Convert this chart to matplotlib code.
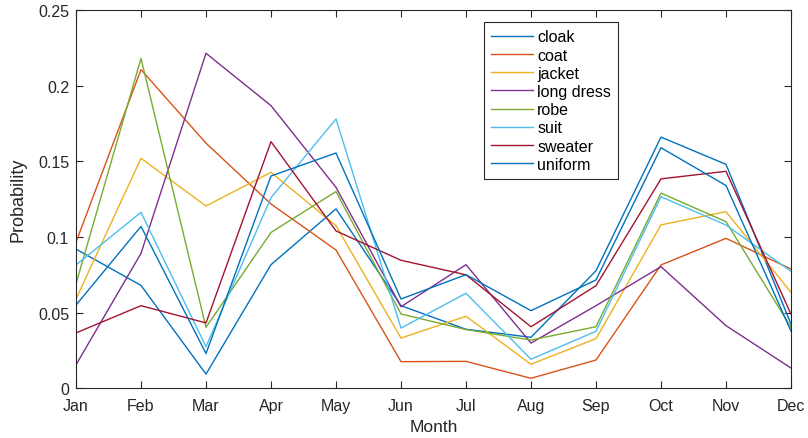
import numpy as np
import matplotlib
matplotlib.use("Agg")
import matplotlib.pyplot as plt

plt.rcParams['font.family'] = ['Liberation Sans', 'DejaVu Sans']

# Monthly probabilities for each garment
months = ['Jan', 'Feb', 'Mar', 'Apr', 'May', 'Jun', 'Jul', 'Aug', 'Sep', 'Oct', 'Nov', 'Dec']
cloak = [0.092, 0.068, 0.0094, 0.0817, 0.1186, 0.0546, 0.039, 0.0337, 0.0777, 0.166, 0.148, 0.0425]
coat = [0.0966, 0.2106, 0.162, 0.1218, 0.0914, 0.0176, 0.0178, 0.0066, 0.0187, 0.0815, 0.0991, 0.0788]
jacket = [0.059, 0.152, 0.1205, 0.1427, 0.1075, 0.0332, 0.0476, 0.0159, 0.0328, 0.108, 0.1167, 0.0634]
long_dress = [0.0155, 0.0892, 0.2214, 0.1868, 0.1328, 0.0539, 0.0817, 0.0299, 0.0546, 0.0804, 0.0414, 0.0134]
robe = [0.069, 0.218, 0.0403, 0.103, 0.13, 0.0491, 0.0388, 0.0319, 0.0407, 0.129, 0.1101, 0.0403]
suit = [0.0815, 0.1163, 0.0275, 0.126, 0.178, 0.0398, 0.0628, 0.0192, 0.0377, 0.1266, 0.1079, 0.0773]
sweater = [0.0366, 0.0546, 0.0432, 0.163, 0.104, 0.0846, 0.075, 0.0407, 0.0678, 0.1384, 0.1434, 0.049]
uniform = [0.055, 0.107, 0.023, 0.1403, 0.1555, 0.059, 0.0751, 0.0513, 0.0716, 0.159, 0.134, 0.0378]

names = ['cloak', 'coat', 'jacket', 'long dress', 'robe', 'suit', 'sweater', 'uniform']
series = [cloak, coat, jacket, long_dress, robe, suit, sweater, uniform]
colors = ['#0072BD', '#D95319', '#EDB120', '#7E2F8E', '#77AC30', '#4DBEEE', '#A2142F', '#0072BD']

fig = plt.figure(figsize=(8.08, 4.39), dpi=100)
ax = fig.add_axes([76 / 808, 1 - 389.3 / 439, 715 / 808, 378.3 / 439])

x = np.arange(1, len(months) + 1)
for name, vals, c in zip(names, series, colors):
    ax.plot(x, vals, color=c, linewidth=1.0, label=name)

axis_col = '#262626'
ax.set_xlim(1, 12)
ax.set_ylim(0, 0.25)
ax.set_xticks(x)
ax.set_xticklabels(months)
ax.set_yticks([0, 0.05, 0.1, 0.15, 0.2, 0.25])
ax.set_yticklabels(['0', '0.05', '0.1', '0.15', '0.2', '0.25'])
ax.tick_params(direction='in', length=5, width=0.8, colors=axis_col,
               labelsize=11.5, top=True, right=True)
ax.tick_params(axis='x', pad=7)
ax.tick_params(axis='y', pad=5)
for s in ax.spines.values():
    s.set_color(axis_col)
    s.set_linewidth(0.8)

ax.set_xlabel('Month', fontsize=12.5, color=axis_col, labelpad=4)
ax.set_ylabel('Probability', fontsize=13, color=axis_col, labelpad=8)

leg = ax.legend(loc='upper left', bbox_to_anchor=(0.571, 0.9675), borderaxespad=0,
                fontsize=11.5, fancybox=False, framealpha=1, edgecolor='#262626',
                handlelength=2.57, handletextpad=0.3, borderpad=0.45, labelspacing=0.2)
leg.get_frame().set_linewidth(0.8)

fig.savefig('out.png', dpi=100)
